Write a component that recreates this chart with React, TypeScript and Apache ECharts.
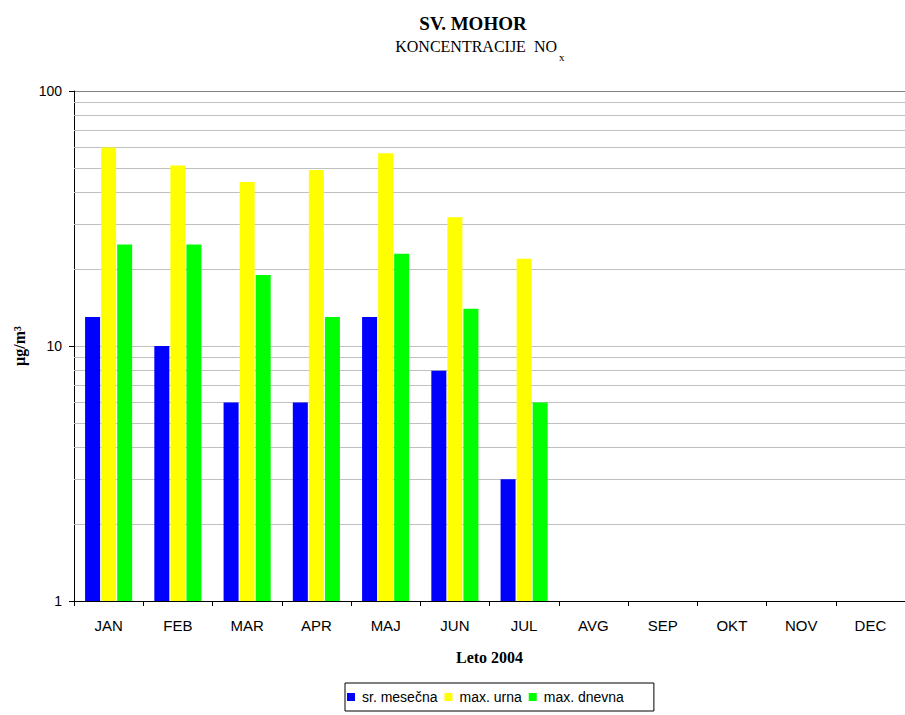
import React, { useEffect, useRef } from "react";
import * as echarts from "echarts";

const months = ["JAN", "FEB", "MAR", "APR", "MAJ", "JUN", "JUL", "AVG", "SEP", "OKT", "NOV", "DEC"];
const srMesecna = [13, 10, 6, 6, 13, 8, 3, null, null, null, null, null];
const maxUrna = [60, 51, 44, 49, 57, 32, 22, null, null, null, null, null];
const maxDnevna = [25, 25, 19, 13, 23, 14, 6, null, null, null, null, null];
const minorGrid = [2, 3, 4, 5, 6, 7, 8, 9, 20, 30, 40, 50, 60, 70, 80, 90];

const SERIF = "'Liberation Serif', 'Times New Roman', serif";
const SANS = "'Liberation Sans', Arial, sans-serif";

export default function App() {
  const ref = useRef<HTMLDivElement>(null);
  useEffect(() => {
    if (!ref.current) return;
    const chart = echarts.init(ref.current, null, { renderer: "svg" });
    const barStyle = (color: string) => ({ color, borderColor: "#ffffff", borderWidth: 0 });
    chart.setOption({
      animation: false,
      backgroundColor: "#ffffff",
      graphic: [
        {
          type: "text",
          x: 473,
          y: 23,
          style: {
            text: "SV. MOHOR",
            font: `bold 19px ${SERIF}`,
            fill: "#000",
            textAlign: "center",
            textVerticalAlign: "middle",
          },
        },
        {
          type: "text",
          x: 557,
          y: 46,
          style: {
            text: "KONCENTRACIJE  NO",
            font: `16px ${SERIF}`,
            fill: "#000",
            textAlign: "right",
            textVerticalAlign: "middle",
          },
        },
        {
          type: "text",
          x: 559,
          y: 57,
          style: {
            text: "x",
            font: `11px ${SERIF}`,
            fill: "#000",
            textAlign: "left",
            textVerticalAlign: "middle",
          },
        },
      ],
      legend: {
        left: 345,
        top: 683,
        itemWidth: 8,
        itemHeight: 8,
        itemGap: 7,
        icon: "rect",
        borderColor: "#000",
        borderWidth: 1,
        padding: [7, 30, 7, 2],
        textStyle: { fontFamily: SANS, fontSize: 14, color: "#000", width: 70, padding: [0, 0, 0, 2] },
        data: ["sr. mesečna", "max. urna", "max. dnevna"],
      },
      grid: { left: 74, top: 91, width: 840, height: 510 },
      xAxis: {
        type: "category",
        data: months,
        boundaryGap: true,
        axisLine: { lineStyle: { color: "#000", width: 1 } },
        axisTick: { show: true, length: 5, inside: false, lineStyle: { color: "#000" } },
        axisLabel: { fontFamily: SANS, fontSize: 15, color: "#000", margin: 17 },
        name: "Leto 2004",
        nameLocation: "middle",
        nameGap: 48,
        nameTextStyle: { fontFamily: SERIF, fontSize: 16, fontWeight: "bold", color: "#000" },
        splitLine: { show: false },
      },
      yAxis: {
        type: "log",
        logBase: 10,
        min: 1,
        max: 100,
        axisLine: { show: true, lineStyle: { color: "#000", width: 1 } },
        axisTick: { show: true, length: 5, lineStyle: { color: "#000" } },
        axisLabel: { fontFamily: SANS, fontSize: 14, color: "#000", margin: 12 },
        splitLine: { show: true, lineStyle: { color: ["#c0c0c0", "#c0c0c0", "#808080"], width: 1 } },
        name: "µg/m³",
        nameLocation: "middle",
        nameRotate: 90,
        nameGap: 46,
        nameTextStyle: { fontFamily: SERIF, fontSize: 16, fontWeight: "bold", color: "#000" },
      },
      series: [
        {
          name: "sr. mesečna",
          type: "bar",
          data: srMesecna,
          barWidth: 15,
          barGap: "7%",
          itemStyle: barStyle("#0000ff"),
          z: 3,
          markLine: {
            silent: true,
            symbol: "none",
            z: 1,
            label: { show: false },
            emphasis: { disabled: true },
            lineStyle: { color: "#c0c0c0", type: "solid", width: 1 },
            data: minorGrid.map((v) => ({ yAxis: v })),
          },
        },
        {
          name: "max. urna",
          type: "bar",
          data: maxUrna,
          barWidth: 15,
          barGap: "7%",
          itemStyle: barStyle("#ffff00"),
          z: 3,
        },
        {
          name: "max. dnevna",
          type: "bar",
          data: maxDnevna,
          barWidth: 15,
          barGap: "7%",
          itemStyle: barStyle("#00ff00"),
          z: 3,
        },
      ],
    });
    return () => chart.dispose();
  }, []);
  return <div ref={ref} style={{ position: "absolute", left: 0, top: 0, width: 905, height: 715 }} />;
}
